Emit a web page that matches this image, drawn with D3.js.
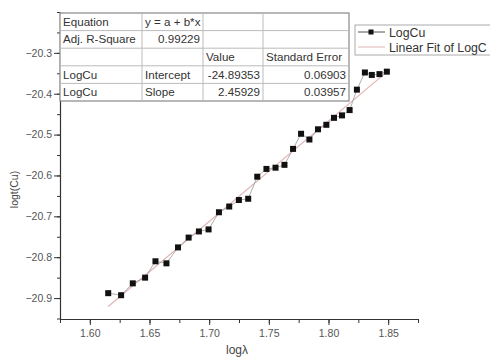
<!DOCTYPE html>
<html>
<head>
<meta charset="utf-8">
<script src="https://cdn.jsdelivr.net/npm/d3@7"></script>
<style>
body { margin: 0; background: #fff; }
text { font-family: "Liberation Sans", Arial, sans-serif; }
</style>
</head>
<body>
<div id="chart"></div>
<script>
// data
var logLambda = [1.6154, 1.6262, 1.6360, 1.6463, 1.6550, 1.6642, 1.6739, 1.6828, 1.6914, 1.6995,
    1.7082, 1.7168, 1.7249, 1.7327, 1.7403, 1.7480, 1.7556, 1.7631, 1.7703, 1.7770,
    1.7840, 1.7912, 1.7982, 1.8046, 1.8113, 1.8177, 1.8238, 1.8305, 1.8363, 1.8427, 1.8489];
var logCu = [-20.888, -20.893, -20.864, -20.850, -20.810, -20.815, -20.776, -20.752, -20.737, -20.732,
    -20.690, -20.676, -20.660, -20.657, -20.603, -20.584, -20.581, -20.574, -20.535, -20.498,
    -20.512, -20.487, -20.476, -20.459, -20.453, -20.440, -20.390, -20.348, -20.354, -20.352, -20.346];
var intercept = -24.89353, slope = 2.45929;
var xTicks = [1.60, 1.65, 1.70, 1.75, 1.80, 1.85];
var yTicks = [-20.9, -20.8, -20.7, -20.6, -20.5, -20.4, -20.3];
var tableRows = [
    ["Equation", "y = a + b*x", "", ""],
    ["Adj. R-Square", "0.99229", "", ""],
    ["", "", "Value", "Standard Error"],
    ["LogCu", "Intercept", "-24.89353", "0.06903"],
    ["LogCu", "Slope", "2.45929", "0.03957"]
];
// second entry is shown cut at the picture's edge, keep what is visible
var legendItems = ["LogCu", "Linear Fit of LogC"];

var W = 490, H = 358;
var svg = d3.select("#chart").append("svg")
    .attr("width", W)
    .attr("height", H);

var x = d3.scaleLinear().domain([1.575, 1.875]).range([60, 418]);
var y = d3.scaleLinear().domain([-20.95, -20.2]).range([318.5, 12]);

var points = logLambda.map(function(v, i) { return {x: v, y: logCu[i]}; });

// minor ticks first, then major
var xMinor = d3.range(0, 13).map(function(i) { return 1.575 + i*0.025; });
var yMinor = d3.range(0, 16).map(function(i) { return -20.95 + i*0.05; });

svg.append("g")
    .attr("transform", "translate(0,319)")
    .call(d3.axisBottom(x).tickValues(xMinor).tickSize(4).tickFormat(""))
    .call(function(g) { g.select(".domain").remove(); g.selectAll("line").attr("stroke", "#333"); });
svg.append("g")
    .attr("transform", "translate(60,0)")
    .call(d3.axisLeft(y).tickValues(yMinor).tickSize(3).tickFormat(""))
    .call(function(g) { g.select(".domain").remove(); g.selectAll("line").attr("stroke", "#333"); });

var xAxis = svg.append("g")
    .attr("transform", "translate(0,319)")
    .call(d3.axisBottom(x).tickValues(xTicks).tickSize(6).tickSizeOuter(0).tickFormat(d3.format(".2f")));
var yAxis = svg.append("g")
    .attr("transform", "translate(60,0)")
    .call(d3.axisLeft(y).tickValues(yTicks).tickSize(6).tickSizeOuter(0).tickFormat(d3.format(".1f")));

[xAxis, yAxis].forEach(function(g) {
    g.select(".domain").attr("stroke", "#333").attr("stroke-width", 1.2);
    g.selectAll(".tick line").attr("stroke", "#333");
    g.selectAll(".tick text")
        .attr("fill", "#555")
        .style("font-size", "10.5px")
        .style("font-family", "Liberation Sans, Arial, sans-serif");
});
xAxis.selectAll(".tick text").attr("y", 9).attr("dy", "0.9em");
yAxis.selectAll(".tick text").attr("x", -8);

// axis titles
svg.append("text")
    .attr("x", 237).attr("y", 354)
    .attr("text-anchor", "middle")
    .attr("fill", "#444")
    .style("font-size", "12px")
    .text("logλ");
svg.append("text")
    .attr("transform", "translate(17.5,189.5) rotate(-90)")
    .attr("text-anchor", "middle")
    .attr("fill", "#444")
    .style("font-size", "10.5px")
    .text("logt(Cu)");

// fit line
var xMin = d3.min(logLambda), xMax = d3.max(logLambda);
svg.append("line")
    .attr("x1", x(xMin)).attr("y1", y(intercept + slope*xMin))
    .attr("x2", x(xMax)).attr("y2", y(intercept + slope*xMax))
    .attr("stroke", "#e2b4b4")
    .attr("stroke-width", 1.2);

// data connecting line
var line = d3.line()
    .x(function(d) { return x(d.x); })
    .y(function(d) { return y(d.y); });
svg.append("path")
    .datum(points)
    .attr("d", line)
    .attr("fill", "none")
    .attr("stroke", "#999")
    .attr("stroke-width", 0.8);

svg.append("g").selectAll("rect")
    .data(points)
    .enter()
    .append("rect")
    .attr("x", function(d) { return x(d.x) - 3; })
    .attr("y", function(d) { return y(d.y) - 3; })
    .attr("width", 6)
    .attr("height", 6)
    .attr("fill", "#111");

// results table
var colX = [60, 142, 203, 263, 349];
var rowY = [13, 30.6, 48.2, 65.8, 83.4, 101];
var table = svg.append("g");
table.append("rect")
    .attr("x", colX[0]).attr("y", rowY[0])
    .attr("width", colX[4] - colX[0]).attr("height", rowY[5] - rowY[0])
    .attr("fill", "#fff").attr("stroke", "#888").attr("stroke-width", 1.2);
rowY.slice(1, 5).forEach(function(ry) {
    table.append("line")
        .attr("x1", colX[0]).attr("x2", colX[4])
        .attr("y1", ry).attr("y2", ry)
        .attr("stroke", "#bbb");
});
colX.slice(1, 4).forEach(function(cx) {
    table.append("line")
        .attr("x1", cx).attr("x2", cx)
        .attr("y1", rowY[0]).attr("y2", rowY[5])
        .attr("stroke", "#bbb");
});
// numbers go right aligned, words left aligned
var isNum = function(s) { return /^-?[0-9.]+$/.test(s); };
tableRows.forEach(function(row, r) {
    row.forEach(function(cell, c) {
        if (!cell) return;
        var num = isNum(cell);
        table.append("text")
            .attr("x", num ? colX[c+1] - 3 : colX[c] + 3)
            .attr("y", (rowY[r] + rowY[r+1]) / 2 + 4)
            .attr("text-anchor", num ? "end" : "start")
            .attr("fill", "#333")
            .style("font-size", "11.6px")
            .text(cell);
    });
});

// legend
var lg = svg.append("g");
lg.append("rect")
    .attr("x", 355).attr("y", 25)
    .attr("width", 150).attr("height", 30)
    .attr("fill", "#fff").attr("stroke", "#aaa");
lg.append("line")
    .attr("x1", 358).attr("x2", 385).attr("y1", 32).attr("y2", 32)
    .attr("stroke", "#555");
lg.append("rect")
    .attr("x", 368.5).attr("y", 29.5).attr("width", 5).attr("height", 5)
    .attr("fill", "#111");
lg.append("line")
    .attr("x1", 358).attr("x2", 385).attr("y1", 47).attr("y2", 47)
    .attr("stroke", "#e2b4b4");
legendItems.forEach(function(t, i) {
    lg.append("text")
        .attr("x", 389).attr("y", 36.5 + i*15)
        .attr("fill", "#333")
        .style("font-size", "12.3px")
        .text(t);
});
</script>
</body>
</html>
